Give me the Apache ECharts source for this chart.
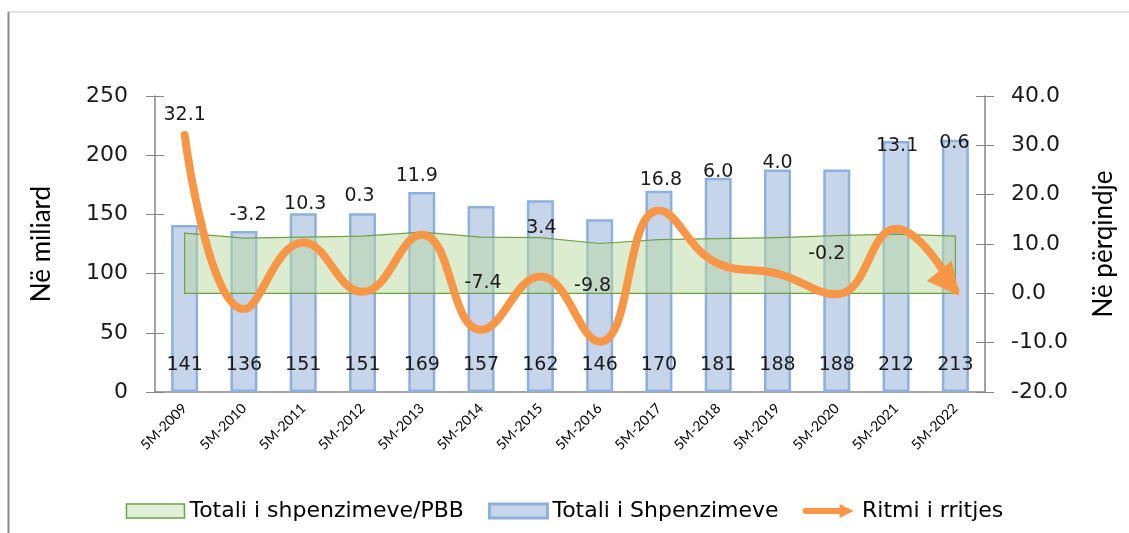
<!DOCTYPE html>
<html>
<head>
<meta charset="utf-8">
<script src="https://cdn.jsdelivr.net/npm/echarts@6/dist/echarts.min.js"></script>
<style>
  html, body { margin: 0; padding: 0; background: #fff; }
  #chart { width: 1129px; height: 533px; }
</style>
</head>
<body>
<div id="chart"></div>
<script>
// kategorite
var periods = ['5M-2009', '5M-2010', '5M-2011', '5M-2012', '5M-2013', '5M-2014', '5M-2015',
               '5M-2016', '5M-2017', '5M-2018', '5M-2019', '5M-2020', '5M-2021', '5M-2022'];
// Totali i Shpenzimeve (miliard)
var totalSpending = [141, 136, 151, 151, 169, 157, 162, 146, 170, 181, 188, 188, 212, 213];
// Ritmi i rritjes (%)
var growthRate = [32.1, -3.2, 10.3, 0.3, 11.9, -7.4, 3.4, -9.8, 16.8, 6.0, 4.0, -0.2, 13.1, 0.6];
// Totali i shpenzimeve/PBB (lexuar nga boshti i djathte)
var spendingToGdp = [12.2, 11.2, 11.4, 11.6, 12.4, 11.4, 11.3, 10.1, 10.9, 11.1, 11.3, 11.7, 12.0, 11.6];
var leftTicks = [0, 250, 50];
var rightTicks = [-20, 40, 10];

// zhvendosja e etiketave te ritmit (si ne Excel, te levizura me dore)
var growthLabelShift = [[0, -20], [4, -94], [2, -38], [-3, -96], [-5, -59], [2, -47], [1, -48],
                        [-7, -56], [2, -30], [0, -92], [0, -111], [-10, -40], [1, -83], [5, -140]];

var chart = echarts.init(document.getElementById('chart'));

var orange = '#f79646';
var lastIdx = growthRate.length - 1;
var growthData = growthRate.map(function (v, i) {
    var item = {
        value: v,
        symbol: 'circle',
        symbolSize: 1,
        itemStyle: { color: 'rgba(0,0,0,0)' },
        label: { offset: growthLabelShift[i] }
    };
    if (i === lastIdx) {
        // koka e shigjetes ne fund te vijes
        item.symbol = 'triangle';
        item.symbolSize = [32, 32];
        item.symbolRotate = -141;
        item.symbolOffset = [-6, -7];
        item.itemStyle = { color: orange };
    }
    return item;
});

var font = 'DejaVu Sans';
var titleFont = 'Lato';

var option = {
    animation: false,
    backgroundColor: '#fff',
    graphic: [
        { type: 'line', shape: { x1: 8, y1: 12, x2: 1129, y2: 12 }, style: { stroke: '#d9d9d9', lineWidth: 1.5 } },
        { type: 'line', shape: { x1: 8.5, y1: 12, x2: 8.5, y2: 533 }, style: { stroke: '#8c8c8c', lineWidth: 2 } }
    ],
    grid: { left: 155, right: 144, top: 96, bottom: 141 },
    legend: {
        bottom: 6,
        left: 'center',
        itemWidth: 58,
        itemHeight: 14,
        itemGap: 24,
        textStyle: { fontFamily: font, fontSize: 22, color: '#000' },
        data: [
            { name: 'Totali i shpenzimeve/PBB', icon: 'rect',
              itemStyle: { color: '#e2efd9', borderColor: '#70a047', borderWidth: 1.5 } },
            { name: 'Totali i Shpenzimeve', icon: 'rect',
              itemStyle: { color: '#c6d5ea', borderColor: '#8eb0dc', borderWidth: 3 } },
            { name: 'Ritmi i rritjes',
              icon: 'path://M4,4 L38,4 L38,0 L52,7 L38,14 L38,10 L4,10 A3,3 0 0 1 4,4 Z',
              itemStyle: { color: orange } }
        ]
    },
    xAxis: {
        type: 'category',
        data: periods,
        axisLine: { lineStyle: { color: '#868686', width: 1.5 } },
        axisTick: { length: 6, lineStyle: { color: '#868686' } },
        axisLabel: { interval: 0, rotate: 45, fontFamily: titleFont, fontSize: 14, color: '#000', margin: 14 }
    },
    yAxis: [
        {
            type: 'value', min: leftTicks[0], max: leftTicks[1], interval: leftTicks[2],
            name: 'Në miliard', nameLocation: 'middle', nameGap: 100, nameRotate: 90,
            nameTextStyle: { fontFamily: titleFont, fontSize: 26, color: '#000' },
            axisLine: { show: true, lineStyle: { color: '#868686', width: 1.5 } },
            axisTick: { show: true, length: 9, lineStyle: { color: '#868686' } },
            axisLabel: { fontFamily: font, fontSize: 22, color: '#1a1a1a', margin: 27 },
            splitLine: { show: false }
        },
        {
            type: 'value', min: rightTicks[0], max: rightTicks[1], interval: rightTicks[2],
            position: 'right',
            name: 'Në përqindje', nameLocation: 'middle', nameGap: 106, nameRotate: 90,
            nameTextStyle: { fontFamily: titleFont, fontSize: 26, color: '#000' },
            axisLine: { show: true, lineStyle: { color: '#868686', width: 1.5 } },
            axisTick: { show: true, length: 9, lineStyle: { color: '#868686' } },
            axisLabel: { fontFamily: font, fontSize: 22, color: '#1a1a1a', margin: 26,
                         formatter: function (v) { return v.toFixed(1); } },
            splitLine: { show: false }
        },
        {
            // pjesa e brendshme e vijave te shenjave (Excel i ka kryqezuar)
            type: 'value', min: leftTicks[0], max: leftTicks[1], interval: leftTicks[2],
            position: 'left',
            axisLine: { show: false },
            axisTick: { show: true, inside: true, length: 9, lineStyle: { color: '#868686' } },
            axisLabel: { show: false }, splitLine: { show: false }
        },
        {
            type: 'value', min: rightTicks[0], max: rightTicks[1], interval: rightTicks[2],
            position: 'right',
            axisLine: { show: false },
            axisTick: { show: true, inside: true, length: 9, lineStyle: { color: '#868686' } },
            axisLabel: { show: false }, splitLine: { show: false }
        }
    ],
    series: [
        {
            name: 'Totali i Shpenzimeve',
            type: 'bar',
            data: totalSpending,
            barWidth: 27,
            itemStyle: { color: '#c6d5ea', borderColor: '#8eb0dc', borderWidth: 2.5 },
            label: {
                show: true, position: 'insideBottom', distance: 17,
                fontFamily: font, fontSize: 19, color: '#1a1a1a'
            },
            z: 2
        },
        {
            name: 'Totali i shpenzimeve/PBB',
            type: 'custom',
            yAxisIndex: 1,
            data: spendingToGdp,
            renderItem: function (params, api) {
                if (params.dataIndex !== 0) return;
                var pts = [];
                spendingToGdp.forEach(function (v, i) { pts.push(api.coord([i, v])); });
                pts.push(api.coord([spendingToGdp.length - 1, 0]));
                pts.push(api.coord([0, 0]));
                return {
                    type: 'polygon',
                    shape: { points: pts },
                    style: { fill: 'rgba(185,218,160,0.5)', stroke: '#70a047', lineWidth: 1.2 }
                };
            },
            z: 3
        },
        {
            name: 'Ritmi i rritjes',
            type: 'line',
            yAxisIndex: 1,
            data: growthData,
            smooth: 0.45,
            lineStyle: { color: orange, width: 8, cap: 'round' },
            itemStyle: { color: orange },
            label: {
                show: true, position: 'inside',
                fontFamily: font, fontSize: 19, color: '#1a1a1a',
                formatter: function (p) { return p.value.toFixed(1); }
            },
            z: 4
        }
    ]
};

chart.setOption(option);
window.addEventListener('resize', chart.resize);
</script>
</body>
</html>
